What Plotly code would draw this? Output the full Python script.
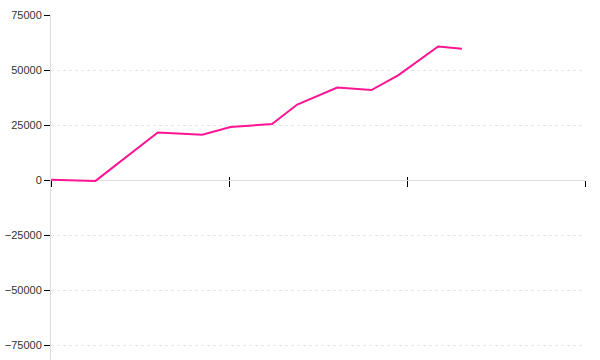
import plotly.graph_objects as go

# data (x in months from start)
months = [0, 3.0, 7.2, 10.2, 12.1, 14.9, 16.6, 19.3, 21.6, 23.4, 26.1, 27.7]
values = [100, -400, 21600, 20600, 24100, 25400, 34300, 42000, 40900, 47600, 60700, 59700]
y_ticks = [-75000, -50000, -25000, 0, 25000, 50000, 75000]
x_ticks = [0, 12, 24, 36]

fig = go.Figure()
# helper invisible trace for second x axis (inner tick half)
fig.add_trace(go.Scatter(x=[months[0]], y=[values[0]], xaxis="x2", mode="markers",
                         marker=dict(opacity=0), showlegend=False, hoverinfo="skip"))
fig.add_trace(go.Scatter(x=months, y=values, mode="lines",
                         line=dict(color="#ff1493", width=2), showlegend=False,
                         hoverinfo="skip"))

xpos = 180 / 345
fig.update_layout(
    width=600, height=360,
    margin=dict(l=51, r=15, t=15, b=0),
    paper_bgcolor="white", plot_bgcolor="white",
    font=dict(family="Liberation Sans, Arial, sans-serif", size=11, color="#333"),
    xaxis=dict(range=[0, 36], tickvals=x_ticks, showticklabels=False,
               showgrid=False, zeroline=False, showline=True, linecolor="#dddddd",
               linewidth=1, ticks="outside", ticklen=6, tickcolor="black", tickwidth=1,
               anchor="free", position=xpos, layer="below traces"),
    xaxis2=dict(range=[0, 36], tickvals=x_ticks, showticklabels=False,
                showgrid=False, zeroline=False, showline=False,
                ticks="inside", ticklen=3, tickcolor="black", tickwidth=1,
                overlaying="x", anchor="free", position=xpos, layer="below traces"),
    yaxis=dict(range=[-81818, 75000], tickvals=y_ticks,
               ticktext=[str(v).replace("-", "\u2212") for v in y_ticks],
               showgrid=True, gridcolor="#e6e6e6", griddash="dot", gridwidth=1,
               zeroline=False, showline=True, linecolor="#dddddd", linewidth=1,
               ticks="outside", ticklen=6, tickcolor="black", tickwidth=1,
               layer="below traces",
               tickfont=dict(size=11, color="#333")),
)

fig.write_html("out.html")
